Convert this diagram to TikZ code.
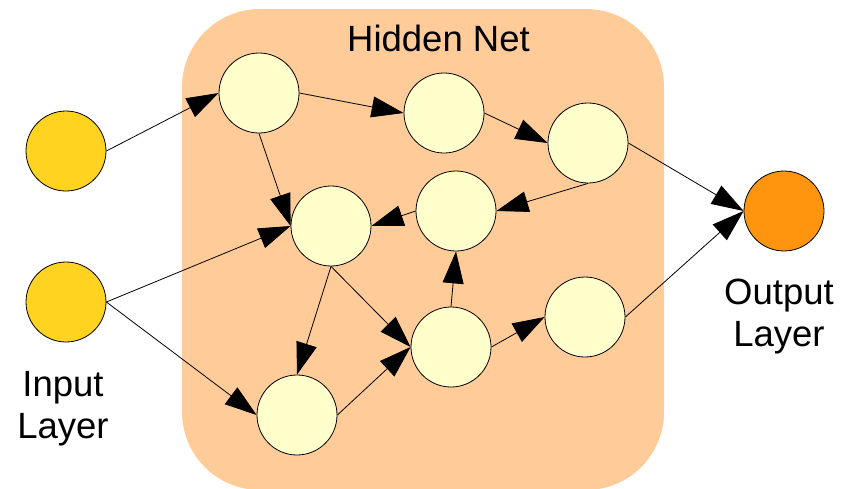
\documentclass[tikz,border=0pt]{standalone}
\usepackage{fontspec}
\setmainfont{Liberation Sans}
\usepackage{tikz}
\usepackage{xcolor}
\usetikzlibrary{arrows.meta}

\definecolor{netbg}{HTML}{FFCC99}
\definecolor{inyellow}{HTML}{FFD320}
\definecolor{hidcream}{HTML}{FFFFCC}
\definecolor{outorange}{HTML}{FF950E}

\begin{document}
\begin{tikzpicture}[x=1pt, y=-1pt,
    neuron/.style={circle, draw, line width=0.8pt, minimum size=80pt, inner sep=0pt},
    inneuron/.style={neuron, fill=inyellow},
    hidneuron/.style={neuron, fill=hidcream},
    outneuron/.style={neuron, fill=outorange},
    conn/.style={-{Triangle[length=32pt, width=21pt]}, line width=0.8pt},
    layertext/.style={font=\fontsize{36.5}{42}\selectfont, align=center, inner sep=0pt}]
    \useasboundingbox (0,0) rectangle (854,488);

    % Hidden net background
    \fill[netbg, rounded corners=78pt] (182,9) rectangle (664,490);
    \node[layertext, anchor=base] (hidtext) at (438.5,51.7) {Hidden Net};

    % Input layer
    \node[inneuron] (in1) at (66,151) {};
    \node[inneuron] (in2) at (66,302) {};
    \node[layertext, anchor=north] (intext) at (63,370.7) {Input\\Layer};

    % Hidden neurons
    \node[hidneuron] (h1) at (259,93) {};
    \node[hidneuron] (h2) at (444,113) {};
    \node[hidneuron] (h3) at (588,143) {};
    \node[hidneuron] (h4) at (331,226) {};
    \node[hidneuron] (h5) at (456,211) {};
    \node[hidneuron] (h6) at (451,347) {};
    \node[hidneuron] (h7) at (585,317) {};
    \node[hidneuron] (h8) at (297,415) {};

    % Output layer
    \node[outneuron] (out) at (784,211) {};
    \node[layertext, anchor=north] (outtext) at (779,279) {Output\\Layer};

    % Connections (glue points)
    \foreach \a/\b in {in1.east/h1.west, in2.east/h4.west, in2.east/h8.west,
                       h1.east/h2.west, h1.south/h4.west, h2.east/h3.west,
                       h3.south/h5.east, h5.west/h4.east, h4.south/h8.north,
                       h4.south/h6.west, h8.east/h6.west, h6.north/h5.south,
                       h6.east/h7.west, h3.east/out.west, h7.east/out.west}
        \draw[conn] (\a) -- (\b);

\end{tikzpicture}
\end{document}
